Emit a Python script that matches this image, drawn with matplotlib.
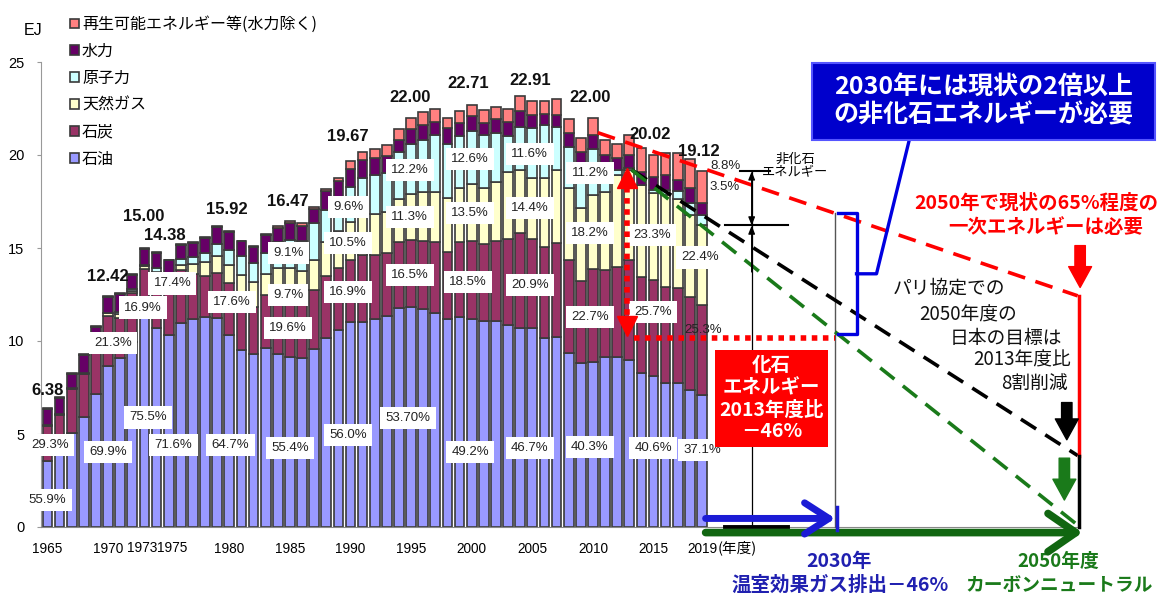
import numpy as np
import matplotlib.pyplot as plt
from matplotlib.patches import Rectangle

plt.rcParams['font.family'] = ['Noto Sans CJK JP', 'DejaVu Sans']
NARROW = ['Liberation Sans Narrow', 'Liberation Sans', 'DejaVu Sans']

# primary energy supply of Japan, EJ
years = np.arange(1965, 2020)
oil = [3.57, 4.2, 5.05, 5.9, 7.15, 8.68, 9.1, 9.95, 11.33, 10.7,
       10.3, 10.95, 11.2, 11.3, 11.25, 10.3, 9.5, 9.3, 9.6, 9.3,
       9.12, 9.1, 9.55, 10.15, 10.6, 11.02, 11.0, 11.2, 11.35, 11.75,
       11.81, 11.7, 11.5, 11.2, 11.3, 11.17, 11.1, 11.1, 10.85, 10.7,
       10.70, 10.15, 10.2, 9.35, 8.8, 8.87, 9.15, 9.15, 9.0, 8.3,
       8.13, 7.75, 7.75, 7.35, 7.09]
coal = [1.87, 1.8, 2.35, 2.35, 2.6, 2.65, 2.15, 2.65, 2.54, 2.8,
        2.5, 2.85, 2.4, 2.2, 2.4, 2.8, 2.85, 2.55, 2.85, 3.1,
        3.23, 3.0, 3.2, 3.35, 3.35, 3.32, 3.65, 3.45, 3.4, 3.55,
        3.63, 3.7, 3.8, 3.6, 4.0, 4.20, 4.1, 4.3, 4.65, 5.1,
        4.79, 4.9, 5.05, 5.0, 4.45, 4.99, 4.65, 4.85, 5.35, 5.15,
        5.15, 5.15, 5.1, 5.0, 4.84]
gas = [0.05, 0.05, 0.05, 0.05, 0.1, 0.15, 0.2, 0.1, 0.15, 0.2,
       0.38, 0.3, 0.55, 0.75, 0.93, 1.0, 1.2, 1.3, 1.15, 1.55,
       1.60, 1.65, 1.6, 1.8, 1.95, 2.07, 2.1, 2.2, 2.2, 2.35,
       2.49, 2.6, 2.7, 2.9, 2.9, 3.07, 3.0, 3.15, 3.6, 3.4,
       3.30, 3.7, 3.95, 3.85, 3.9, 4.00, 4.2, 4.95, 4.85, 4.95,
       4.66, 4.95, 4.8, 4.45, 4.28]
nuclear = [0.0, 0.0, 0.0, 0.0, 0.02, 0.05, 0.1, 0.1, 0.05, 0.2,
           0.35, 0.3, 0.35, 0.5, 0.65, 0.8, 1.0, 1.05, 1.15, 1.35,
           1.50, 1.6, 2.0, 1.75, 1.75, 1.89, 2.0, 2.1, 2.1, 2.5,
           2.68, 2.8, 3.1, 2.9, 2.8, 2.86, 2.9, 2.65, 1.9, 2.3,
           2.66, 2.85, 2.3, 2.25, 2.3, 2.46, 1.3, 0.25, 0.1, 0.0,
           0.2, 0.25, 0.4, 0.6, 0.56]
hydro = [0.85, 0.9, 0.8, 0.95, 0.88, 0.84, 1.0, 0.75, 0.88, 0.85,
         0.8, 0.75, 0.75, 0.8, 0.92, 0.97, 0.8, 0.85, 0.95, 0.8,
         0.9, 0.85, 0.75, 1.0, 0.95, 0.95, 1.0, 0.9, 0.9, 0.65,
         0.8, 0.8, 0.7, 0.85, 0.7, 0.8, 0.6, 0.75, 0.8, 0.85,
         0.7, 0.6, 0.65, 0.75, 0.7, 0.75, 0.7, 0.65, 0.7, 0.7,
         0.7, 0.8, 0.6, 0.8, 0.67]
renew = [0.04, 0.05, 0.05, 0.05, 0.05, 0.05, 0.05, 0.05, 0.05, 0.05,
         0.05, 0.05, 0.05, 0.05, 0.05, 0.05, 0.05, 0.05, 0.05, 0.1,
         0.12, 0.12, 0.1, 0.12, 0.15, 0.42, 0.4, 0.45, 0.57, 0.6,
         0.59, 0.7, 0.7, 0.55, 0.65, 0.61, 0.7, 0.65, 0.7, 0.8,
         0.76, 0.7, 0.85, 0.75, 0.75, 0.93, 0.8, 0.75, 1.1, 1.3,
         1.18, 1.2, 1.45, 1.6, 1.68]

series = [oil, coal, gas, nuclear, hydro, renew]
names = ['石油', '石炭', '天然ガス', '原子力', '水力', '再生可能エネルギー等(水力除く)']
colors = ['#9999FF', '#993366', '#FFFFCC', '#CCFFFF', '#660066', '#FF8080']

xticks = [1965, 1970, 1980, 1985, 1990, 1995, 2000, 2005, 2010, 2015, 2019]

# totals written above the bars
tot_txt = ['6.38', '12.42', '15.00', '14.38', '15.92', '16.47', '19.67',
           '22.00', '22.71', '22.91', '22.00', '20.02', '19.12']
tot_x = [1965.0, 1970.0, 1972.9, 1974.7, 1979.8, 1984.85, 1989.8,
         1994.9, 1999.7, 2004.8, 2009.76, 2014.7, 2018.7]
tot_y = [7.35, 13.45, 16.7, 15.65, 17.05, 17.5, 21.0,
         23.1, 23.85, 24.0, 23.1, 21.1, 20.2]

# share labels
sh_txt = ['55.9%', '29.3%', '69.9%', '21.3%', '75.5%', '16.9%', '71.6%', '17.4%',
          '64.7%', '17.6%', '55.4%', '19.6%', '9.7%', '9.1%',
          '56.0%', '16.9%', '10.5%', '9.6%', '53.70%', '16.5%', '11.3%', '12.2%',
          '49.2%', '18.5%', '13.5%', '12.6%', '46.7%', '20.9%', '14.4%', '11.6%',
          '40.3%', '22.7%', '18.2%', '11.2%', '40.6%', '25.7%', '23.3%',
          '37.1%', '25.3%', '22.4%', '3.5%', '8.8%']
sh_x = [1965.0, 1965.2, 1970.0, 1970.4, 1973.3, 1972.9, 1975.4, 1975.3,
        1980.1, 1980.2, 1985.0, 1984.85, 1984.85, 1984.85,
        1989.8, 1989.8, 1989.8, 1989.8, 1994.75, 1994.9, 1994.9, 1994.9,
        1999.86, 1999.7, 1999.86, 1999.86, 2004.8, 2004.8, 2004.8, 2004.8,
        2009.76, 2009.76, 2009.76, 2009.76, 2014.96, 2014.96, 2014.88,
        2019.0, 2019.08, 2018.83, 2020.9, 2020.9]
sh_y = [1.45, 4.4, 4.03, 9.9, 5.9, 11.8, 4.4, 13.1,
        4.4, 12.1, 4.25, 10.7, 12.47, 14.73,
        4.95, 12.63, 15.27, 17.2, 5.86, 13.55, 16.67, 19.2,
        4.03, 13.17, 16.88, 19.78, 4.25, 13.0, 17.15, 20.05,
        4.3, 11.29, 15.8, 19.03, 4.25, 11.56, 15.7,
        4.14, 10.6, 14.5, 18.3, 19.4]
sh_box = [True] * 37 + [True, False, True, False, False]

reduction_2030 = 0.46
share_2050 = 0.65
reduction_2050 = 0.80

fig = plt.figure(figsize=(11.59, 5.95), dpi=100)
ax = fig.add_axes([0, 0, 1, 1])
ax.set_xlim(1965 - 47.5 / 12.12, 1965 + (1159 - 47.5) / 12.12)
ax.set_ylim(-(595 - 527) / 18.6, 527 / 18.6)

bottom = np.zeros(len(years))
handles = []
for vals, col, name in zip(series, colors, names):
    vals = np.array(vals)
    h = ax.bar(years, vals, width=0.8, bottom=bottom, color=col,
               edgecolor='#3a3a3a', linewidth=1.2, label=name, zorder=2)
    bottom += vals
    handles.append(h)

leg = ax.legend(handles[::-1], names[::-1], loc='upper left',
                bbox_to_anchor=(70 / 1159, 1 - 16 / 595), frameon=False,
                fontsize=11.5, handlelength=0.55, handleheight=0.55,
                handletextpad=0.2, labelspacing=0.62, borderpad=0, borderaxespad=0)

# axes
for s in ['top', 'right']:
    ax.spines[s].set_visible(False)
ax.spines['left'].set_position(('data', 1964.46))
ax.spines['left'].set_bounds(0, 25)
ax.spines['left'].set_color('#999999')
ax.spines['bottom'].set_position(('data', 0))
ax.spines['bottom'].set_bounds(1964.46, 2050.2)
ax.spines['bottom'].set_color('#888888')
ax.set_yticks(range(0, 26, 5))
ax.set_xticks(xticks)
ax.tick_params(axis='y', direction='out', length=3, color='#999999', pad=9, labelsize=10.5)
ax.tick_params(axis='x', length=0, pad=11, labelsize=9.8)
for lbl in ax.get_xticklabels() + ax.get_yticklabels():
    lbl.set_fontfamily(NARROW)
# 1973 and 1975 sit next to each other
ax.text(1974.05, -1.13, '1973', ha='right', va='center', fontsize=9.8, family=NARROW)
ax.text(1974.05, -1.13, '1975', ha='left', va='center', fontsize=9.8, family=NARROW)
ax.text(1963.8, 26.7, 'EJ', fontsize=11.5, ha='center', va='center', family=NARROW)
ax.text(2020.3, -1.13, '(年度)', fontsize=10.5, ha='left', va='center')

for x, y, t in zip(tot_x, tot_y, tot_txt):
    ax.text(x, y, t, ha='center', va='center', fontsize=12, fontweight='bold',
            family=NARROW, color='#111111', zorder=4)
for x, y, t, b in zip(sh_x, sh_y, sh_txt, sh_box):
    kw = dict(boxstyle='square,pad=0.4', fc='white', ec='none') if b else None
    ax.text(x, y, t, ha='center', va='center', fontsize=9.5, family=NARROW,
            color='#222222', bbox=kw, zorder=4)

# derived levels
i13 = list(years).index(2013)
fossil_13 = oil[i13] + coal[i13] + gas[i13]
total_19 = sum(s[-1] for s in series)
fossil_19 = oil[-1] + coal[-1] + gas[-1]
target_30 = fossil_13 * (1 - reduction_2030)
red_end = total_19 * share_2050
black_end = fossil_13 * (1 - reduction_2050)
red_start = (2010.4, 21.2)


def red_at(yr):
    return red_start[1] + (red_end - red_start[1]) * (yr - red_start[0]) / (2050 - red_start[0])


dash = (0, (5, 3))
ax.plot([red_start[0], 2050], [red_start[1], red_end], color='#FF0000', lw=2.6, ls=dash, zorder=5)
ax.plot([2013.2, 2050], [fossil_13, black_end], color='black', lw=2.6, ls=dash, zorder=5)
ax.plot([2013.2, 2050], [fossil_13, 0.1], color='#1A7A1A', lw=2.6, ls=dash, zorder=5)
ax.plot([2050.1, 2050.1], [red_end, black_end], color='#FF0000', lw=2.5, zorder=5)
ax.plot([2050.1, 2050.1], [black_end, 0], color='black', lw=2.5, zorder=5)

# red dotted double arrow at 2013 and 2030 level
ax.plot([2012.8, 2012.8], [fossil_13 - 0.9, target_30 + 0.9], color='#FF0000', lw=4,
        ls=(0, (1, 1)), zorder=6)
ax.plot(2012.8, fossil_13 - 0.45, marker='^', ms=15, color='#FF0000', zorder=6)
ax.plot(2012.8, target_30 + 0.45, marker='v', ms=15, color='#FF0000', zorder=6)
ax.plot([2013.4, 2030], [target_30 - 0.2, target_30 - 0.2], color='#FF0000', lw=4,
        ls=(0, (1, 1)), zorder=6)

# non-fossil dimension at 2019 level
xd = 2023.1
ax.plot([xd, xd], [0, total_19], color='black', lw=0.9, zorder=5)
ax.plot([xd - 1.0, xd + 1.5], [total_19, total_19], color='black', lw=1.5, zorder=5)
ax.plot([xd - 2.2, xd + 3.0], [fossil_19, fossil_19], color='black', lw=1.5, zorder=5)
ax.plot([xd - 2.2, xd + 3.0], [0, 0], color='black', lw=2.8, zorder=5)
ax.annotate('', xy=(xd, total_19), xytext=(xd, fossil_19),
            arrowprops=dict(arrowstyle='<|-|>,head_length=0.5,head_width=0.2', lw=0.9,
                            color='black', shrinkA=0, shrinkB=0), zorder=5)
ax.annotate('', xy=(xd, fossil_19), xytext=(xd, fossil_19 - 2.5),
            arrowprops=dict(arrowstyle='-|>,head_length=0.5,head_width=0.2', lw=0.9,
                            color='black', shrinkA=0, shrinkB=0), zorder=5)
ax.text(xd + 3.6, total_19 + 0.3, '非化石\nエネルギー', fontsize=9.5, ha='center',
        va='center', linespacing=1.0)

# 2030 vertical and blue bracket
ax.plot([2030, 2030], [0, red_at(2030)], color='#555555', lw=1.0, zorder=3)
mid = (red_at(2030) + target_30) / 2
ax.plot([2030.2, 2031.75, 2031.75, 2030.2],
        [red_at(2030), red_at(2030), target_30, target_30], color='#0000E0', lw=2.4, zorder=6)
ax.plot([2031.75, 2033.4, 2036.1], [mid, mid, 20.8], color='#0000E0', lw=2.4, zorder=6)
ax.add_patch(Rectangle((2028.05, 20.8), 28.35, 4.15, fc='#0000CC', ec='#5555FF', lw=1.5, zorder=7))
ax.text(2042.2, 22.88, '2030年には現状の2倍以上\nの非化石エネルギーが必要', color='white',
        fontsize=18, fontweight='bold', ha='center', va='center', linespacing=1.2, zorder=8)

# red box
ax.add_patch(Rectangle((2020.1, 4.3), 9.3, 5.22, fc='#FF0000', ec='none', zorder=7))
ax.text(2024.75, 6.9, '化石\nエネルギー\n2013年度比\n－46%', color='white', fontsize=14,
        fontweight='bold', ha='center', va='center', linespacing=1.2, zorder=8)

# 2050 texts
ax.text(2046.6, 17.42, '2050年で現状の65%程度の', color='#FF0000', fontsize=14,
        fontweight='bold', ha='center', va='center')
ax.text(2047.4, 16.08, '一次エネルギーは必要', color='#FF0000', fontsize=14,
        fontweight='bold', ha='center', va='center')
paris = ['パリ協定での', '2050年度の', '日本の目標は', '2013年度比', '8割削減']
paris_x = [2039.4, 2040.97, 2044.1, 2045.4, 2046.4]
paris_y = [12.85, 11.4, 10.16, 8.98, 7.74]
for t, x, y in zip(paris, paris_x, paris_y):
    ax.text(x, y, t, fontsize=13.5, ha='center', va='center', color='#111111')

block = 'simple,head_length=1.0,head_width=1.1,tail_width=0.5'
ax.annotate('', xy=(2050.2, red_end + 0.45), xytext=(2050.2, red_end + 2.7),
            arrowprops=dict(arrowstyle=block, color='#FF0000', mutation_scale=15,
                            shrinkA=0, shrinkB=0), zorder=6)
ax.annotate('', xy=(2049.1, black_end + 0.85), xytext=(2049.1, black_end + 2.85),
            arrowprops=dict(arrowstyle=block, color='black', mutation_scale=15,
                            shrinkA=0, shrinkB=0), zorder=6)
ax.annotate('', xy=(2048.9, 1.45), xytext=(2048.9, 3.7),
            arrowprops=dict(arrowstyle=block, color='#1A7A1A', mutation_scale=15,
                            shrinkA=0, shrinkB=0), zorder=6)

# bottom arrows
ax.annotate('', xy=(2030.0, 0.46), xytext=(2019.3, 0.46),
            arrowprops=dict(arrowstyle='->,head_length=0.7,head_width=0.45', lw=5,
                            color='#1B1BD5', mutation_scale=25, shrinkA=0, shrinkB=0), zorder=6)
ax.plot([2030.15, 2030.15], [-0.16, 1.07], color='#1B1BD5', lw=2.5, zorder=6)
ax.annotate('', xy=(2050.4, -0.3), xytext=(2019.3, -0.3),
            arrowprops=dict(arrowstyle='->,head_length=0.8,head_width=0.55', lw=5.5,
                            color='#116611', mutation_scale=25, shrinkA=0, shrinkB=0), zorder=5)
ax.text(2030.3, -1.88, '2030年', color='#2020B0', fontsize=14, fontweight='bold',
        ha='center', va='center')
ax.text(2030.4, -3.12, '温室効果ガス排出－46%', color='#2020B0', fontsize=14,
        fontweight='bold', ha='center', va='center')
ax.text(2048.4, -1.88, '2050年度', color='#1A7A1A', fontsize=13.5, fontweight='bold',
        ha='center', va='center')
ax.text(2048.5, -3.12, 'カーボンニュートラル', color='#1A7A1A', fontsize=13.5,
        fontweight='bold', ha='center', va='center')

fig.savefig('out.png', dpi=100)
